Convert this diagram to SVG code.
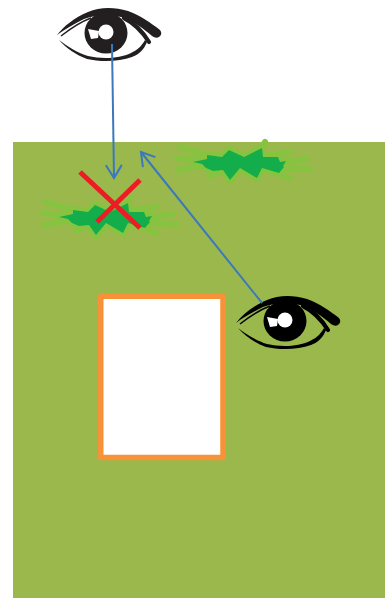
<svg xmlns="http://www.w3.org/2000/svg" width="385" height="598" viewBox="0 0 385 598">
<style>
.conn{fill:none;stroke:#3b78bd;stroke-width:2;marker-end:url(#open)}
.cross{fill:none;stroke:#ed1c24;stroke-width:5}
.halo{fill:none;stroke:#86c440;stroke-linejoin:round;stroke-linecap:round}
.burst{fill:#13ae4b}
</style>
<defs>
<marker id="open" viewBox="-14 -9 16 18" refX="0" refY="0" markerWidth="16" markerHeight="18" markerUnits="userSpaceOnUse" orient="auto"><path d="M-13-8 0 0-13 8" fill="none" stroke="#3b78bd" stroke-width="2"/></marker>
<g id="eye">
<path d="M-49 3C-42-6-32-14-18-20C-6-25 8-25 22-21C34-17 45-9 54-2Q57 2 53 5Q50 7 46 4C38-3 28-11 15-15C2-18-12-17-22-13C-32-8-41-3-49 3Z"/>
<path d="M-45 4C-36-3-26-10-15-14" fill="none" stroke="currentColor" stroke-width="1.500"/>
<path d="M18-14C30-8 38 2 43 10" fill="none" stroke="currentColor" stroke-width="4.200" stroke-linecap="round"/>
<path d="M-47 8C-38 15-28 21-18 24C-5 27 13 27 25 21C31 18 35 15 39 8L41 10C38 18 32 23 26 25C13 30-6 30-19 27C-30 23-40 16-47 8Z"/>
<ellipse cy="1" rx="21.500" ry="20.500"/>
<circle r="7.500" fill="#fff"/>
<path d="M-18-3-7-1-8 6-15 7Z" fill="#fff"/>
</g>
<g id="star">
<path class="halo" stroke-width="8" d="M193 162 207 159 207 155 222 157 229 150 244 157 262 148 263 157 278 157 280 162 286 161 283 166 284 167 279 173 262 168 257 178 240 168 230 180 223 170 213 171 206 168 202 164Z"/>
<path class="halo" stroke-width="6" d="M180 147 210 156M177 158 205 160M178 170 205 165M210 176 222 170M265 142 258 155M290 152 270 155M306 159 285 162M310 169 285 168M290 178 270 170"/>
<path class="burst" d="M193 162 207 159 207 155 222 157 229 150 244 157 262 148 263 157 278 157 280 162 286 161 283 166 284 167 279 173 262 168 257 178 240 168 230 180 223 170 213 171 206 168 202 164Z"/>
</g>
</defs>
<rect id="ground" x="13" y="142" width="372" height="456" fill="#9bb84d"/>
<g id="burst-right"><use href="#star"/></g>
<g id="burst-left"><use href="#star" x="-134" y="55"/></g>
<g id="window"><rect x="100.750" y="296.250" width="122.250" height="161.250" fill="#fff" stroke="#f79239" stroke-width="5.500" stroke-linejoin="round"/></g>
<g id="eye-top" color="#231f20" fill="#231f20"><use href="#eye" x="106" y="32"/></g>
<g id="eye-right" color="#000" fill="#000"><use href="#eye" x="285" y="320"/></g>
<g id="connectors">
<path class="conn" d="M112 44 114 178"/>
<path class="conn" d="M262 303 141 152"/>
</g>
<g id="cross">
<path class="cross" d="M80 172 140 228"/>
<path class="cross" d="M140 180 97 222"/>
</g>
</svg>
